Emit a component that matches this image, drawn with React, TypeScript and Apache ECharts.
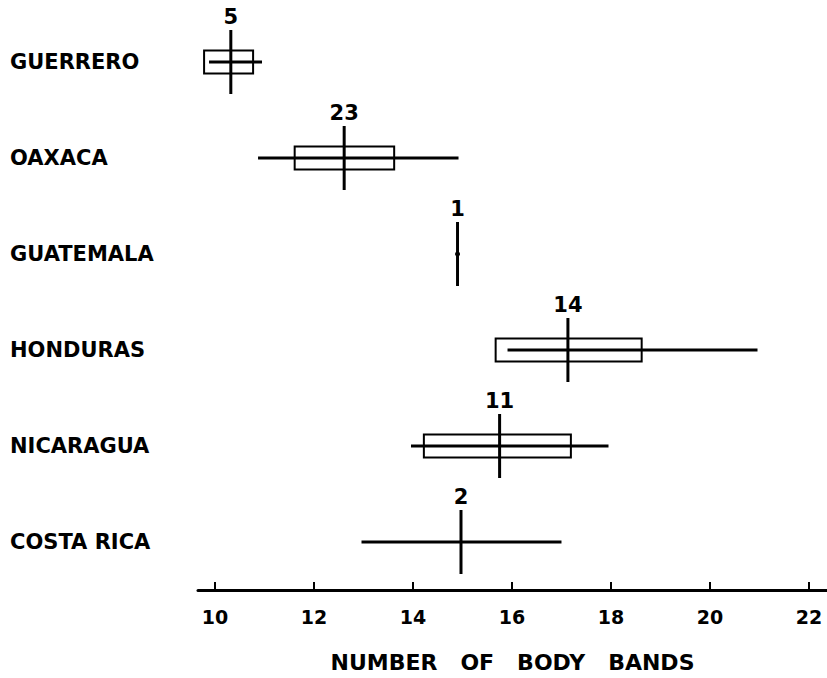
import React, { useEffect, useRef } from "react";
import * as echarts from "echarts";

const categories = ["GUERRERO", "OAXACA", "GUATEMALA", "HONDURAS", "NICARAGUA", "COSTA RICA"];
const sampleSize = [5, 23, 1, 14, 11, 2];
const means = [10.32, 12.61, 14.9, 17.13, 15.75, 14.97];
const boxLow: (number | null)[] = [9.78, 11.61, null, 15.67, 14.22, null];
const boxHigh: (number | null)[] = [10.77, 13.62, null, 18.62, 17.19, null];
const rangeMin: (number | null)[] = [9.88, 10.87, null, 15.91, 13.96, 12.96];
const rangeMax: (number | null)[] = [10.95, 14.92, null, 20.96, 17.95, 17.0];
const tickValues = [10, 12, 14, 16, 18, 20, 22];

const FONT = "DejaVu Sans";

export default function App() {
  const ref = useRef<HTMLDivElement>(null);
  useEffect(() => {
    if (!ref.current) return;
    const chart = echarts.init(ref.current, null, { renderer: "svg" });
    const data = categories.map((c, i) => [i, means[i]]);
    chart.setOption({
      animation: false,
      backgroundColor: "#ffffff",
      grid: { left: 198, right: 0, top: 14, bottom: 87 },
      xAxis: {
        type: "value",
        min: 9.657,
        max: 22.364,
        splitLine: { show: false },
        axisLine: { show: true, lineStyle: { color: "#000", width: 3 } },
        axisTick: {
          show: true,
          inside: true,
          length: 8,
          customValues: tickValues,
          lineStyle: { color: "#000", width: 2 },
        },
        axisLabel: {
          customValues: tickValues,
          color: "#000",
          fontFamily: FONT,
          fontWeight: "bold",
          fontSize: 19,
          margin: 17,
        },
        name: "NUMBER\u00a0\u00a0\u00a0OF\u00a0\u00a0\u00a0BODY\u00a0\u00a0\u00a0BANDS",
        nameLocation: "middle",
        nameGap: 61,
        nameTextStyle: { color: "#000", fontFamily: FONT, fontWeight: "bold", fontSize: 22 },
      },
      yAxis: {
        type: "category",
        data: categories,
        inverse: true,
        axisLine: { show: false },
        axisTick: { show: false },
        splitLine: { show: false },
        axisLabel: {
          color: "#000",
          fontFamily: FONT,
          fontWeight: "bold",
          fontSize: 21,
          align: "left",
          margin: 188,
        },
      },
      series: [
        {
          type: "custom",
          clip: false,
          data,
          encode: { x: 1, y: 0 },
          renderItem: (params: any, api: any) => {
            const i = params.dataIndex;
            const c = api.coord([means[i], i]);
            const xm = c[0];
            const y = c[1];
            const children: any[] = [];
            const lo = rangeMin[i];
            const hi = rangeMax[i];
            if (lo != null && hi != null) {
              const a = api.coord([lo, i]);
              const b = api.coord([hi, i]);
              children.push({
                type: "line",
                shape: { x1: a[0], y1: y, x2: b[0], y2: y },
                style: { stroke: "#000", lineWidth: 3 },
              });
            }
            const bl = boxLow[i];
            const bh = boxHigh[i];
            if (bl != null && bh != null) {
              const a = api.coord([bl, i]);
              const b = api.coord([bh, i]);
              children.push({
                type: "rect",
                shape: { x: a[0], y: y - 11.5, width: b[0] - a[0], height: 23 },
                style: { stroke: "#000", fill: "none", lineWidth: 2 },
              });
            }
            children.push({
              type: "line",
              shape: { x1: xm, y1: y - 32, x2: xm, y2: y + 32 },
              style: { stroke: "#000", lineWidth: 3 },
            });
            if (lo == null) {
              children.push({
                type: "circle",
                shape: { cx: xm, cy: y, r: 2.5 },
                style: { fill: "#000" },
              });
            }
            children.push({
              type: "text",
              x: xm,
              y: y - 35,
              style: {
                text: String(sampleSize[i]),
                fill: "#000",
                font: `bold 21px "${FONT}"`,
                textAlign: "center",
                textVerticalAlign: "bottom",
              },
            });
            return { type: "group", children };
          },
        },
      ],
    });
    return () => chart.dispose();
  }, []);
  return (
    <div
      ref={ref}
      style={{ position: "fixed", left: 0, top: 0, width: 827, height: 678, background: "#fff" }}
    />
  );
}
